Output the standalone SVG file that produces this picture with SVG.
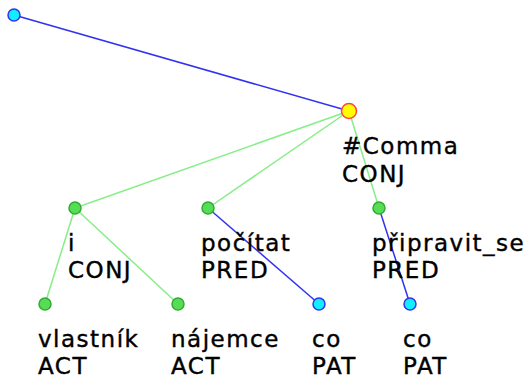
<svg xmlns="http://www.w3.org/2000/svg" width="526" height="382" viewBox="0 0 526 382">
<style>
.bg{fill:#ffffff}
.eb{stroke:#3232f0;stroke-width:1.5;fill:none}
.eg{stroke:#88ee88;stroke-width:1.5;fill:none}
.ng{fill:#55dd55;stroke:#33aa33;stroke-width:1.5}
.nc{fill:#11eeff;stroke:#3333ee;stroke-width:1.5}
.ny{fill:#ffff00;stroke:#ff4444;stroke-width:1.5}
text{font-family:"DejaVu Sans",Verdana,sans-serif;font-size:23px;letter-spacing:1.5px;fill:#000000;stroke:#000000;stroke-width:0.4}
</style>
<rect class="bg" x="0" y="0" width="526" height="382"/>
<g id="connectors">
<line class="eb" x1="14" y1="15" x2="349" y2="111"/>
<line class="eg" x1="349" y1="111" x2="75" y2="208"/>
<line class="eg" x1="349" y1="111" x2="208" y2="208"/>
<line class="eg" x1="349" y1="111" x2="379" y2="208"/>
<line class="eg" x1="75" y1="208" x2="45" y2="304"/>
<line class="eg" x1="75" y1="208" x2="178" y2="304"/>
<line class="eb" x1="208" y1="208" x2="319" y2="304"/>
<line class="eb" x1="379" y1="208" x2="410" y2="304"/>
</g>
<g id="root"><circle class="nc" cx="14" cy="15" r="6"/></g>
<g id="comma"><circle class="ny" cx="349" cy="111" r="7.5"/><text x="342" y="154">#Comma</text><text x="342" y="182">CONJ</text></g>
<g id="i"><circle class="ng" cx="75" cy="208" r="6"/><text x="68" y="251">i</text><text x="68" y="278">CONJ</text></g>
<g id="pocitat"><circle class="ng" cx="208" cy="208" r="6"/><text x="201" y="251">počítat</text><text x="201" y="278">PRED</text></g>
<g id="pripravit"><circle class="ng" cx="379" cy="208" r="6"/><text x="372" y="251">připravit_se</text><text x="372" y="278">PRED</text></g>
<g id="vlastnik"><circle class="ng" cx="45" cy="304" r="6"/><text x="38" y="347">vlastník</text><text x="38" y="374">ACT</text></g>
<g id="najemce"><circle class="ng" cx="178" cy="304" r="6"/><text x="171" y="347">nájemce</text><text x="171" y="374">ACT</text></g>
<g id="co1"><circle class="nc" cx="319" cy="304" r="6"/><text x="312" y="347">co</text><text x="312" y="374">PAT</text></g>
<g id="co2"><circle class="nc" cx="410" cy="304" r="6"/><text x="403" y="347">co</text><text x="403" y="374">PAT</text></g>
</svg>
